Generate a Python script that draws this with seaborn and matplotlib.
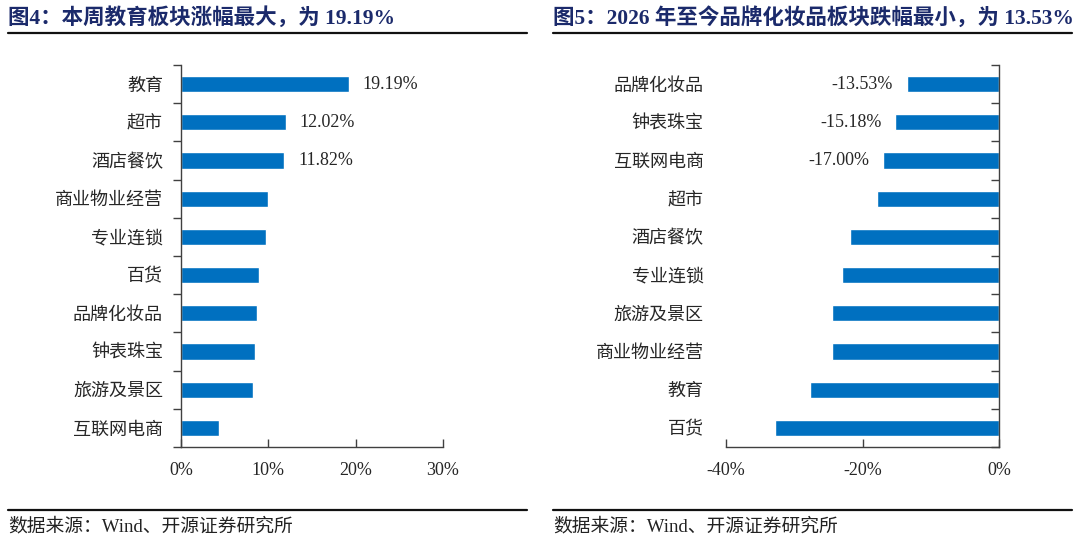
import matplotlib
matplotlib.use('Agg')
import matplotlib.pyplot as plt
from matplotlib.lines import Line2D
import seaborn as sns
import numpy as np

# 图4 本周涨幅
up_cats = ['教育', '超市', '酒店餐饮', '商业物业经营', '专业连锁', '百货',
           '品牌化妆品', '钟表珠宝', '旅游及景区', '互联网电商']
up_vals = [19.19, 12.02, 11.82, 10.0, 9.7, 8.97, 8.74, 8.5, 8.28, 4.39]
up_shown = 3

# 图5 2026年至今
ytd_cats = ['品牌化妆品', '钟表珠宝', '互联网电商', '超市', '酒店餐饮', '专业连锁',
            '旅游及景区', '商业物业经营', '教育', '百货']
ytd_vals = [-13.53, -15.18, -17.00, -17.85, -21.9, -22.96, -24.4, -24.5, -27.7, -32.8]
ytd_shown = 3

left_ticks = [0, 10, 20, 30]
right_ticks = [-40, -20, 0]

title_left = '图4：本周教育板块涨幅最大，为 19.19%'
title_right = '图5：2026 年至今品牌化妆品板块跌幅最小，为 13.53%'
source = '数据来源：Wind、开源证券研究所'

bar_color = '#0070C0'
title_color = '#1B2A6B'
spine_color = '#404040'

sns.set_style('white')
plt.rcParams['font.family'] = ['Liberation Serif', 'Noto Sans CJK SC']
plt.rcParams['axes.unicode_minus'] = False

W, H = 1080, 544
fig = plt.figure(figsize=(W / 100, H / 100), dpi=100)
ax1 = fig.add_axes([181 / W, 1 - 447 / H, (443 - 181) / W, (447 - 65) / H])
ax2 = fig.add_axes([726 / W, 1 - 447 / H, (999 - 726) / W, (447 - 65) / H])


def style_axis(ax, cats, ticks, side):
    n = len(cats)
    ax.set_ylim(n - 0.5, -0.5)
    ax.set_xlim(ticks[0], ticks[-1])
    ax.set_xticks(ticks)
    ax.set_xticklabels([f'{t:.0f}%' for t in ticks], fontsize=13)
    ax.set_yticks(range(n))
    ax.set_yticklabels(cats, fontsize=13)
    ax.set_yticks(np.arange(-0.5, n, 1.0), minor=True)
    ax.set_xlabel('')
    ax.set_ylabel('')
    ax.tick_params(axis='x', direction='in', length=6, width=1, color=spine_color,
                   pad=11, bottom=True)
    for s in ['top', 'right', 'left', 'bottom']:
        ax.spines[s].set_color(spine_color)
        ax.spines[s].set_linewidth(1)
    ax.spines['top'].set_visible(False)
    if side == 'left':
        ax.spines['right'].set_visible(False)
        ax.tick_params(axis='y', which='major', length=0, pad=13)
        ax.tick_params(axis='y', which='minor', left=True, direction='out',
                       length=6, width=1, color=spine_color)
    else:
        ax.spines['left'].set_visible(False)
        ax.tick_params(axis='y', which='major', length=0, pad=16, left=True)
        ax.tick_params(axis='y', which='minor', left=False, right=True,
                       direction='in', length=6, width=1, color=spine_color)


sns.barplot(x=up_vals, y=up_cats, orient='h', color=bar_color, saturation=1,
            width=0.42, ax=ax1)
style_axis(ax1, up_cats, left_ticks, 'left')
for i in range(up_shown):
    ax1.annotate(f'{up_vals[i]:.2f}%', (up_vals[i], i), xytext=(10, 0),
                 textcoords='offset points', ha='left', va='center', fontsize=13)

sns.barplot(x=ytd_vals, y=ytd_cats, orient='h', color=bar_color, saturation=1,
            width=0.42, ax=ax2)
style_axis(ax2, ytd_cats, right_ticks, 'right')
for i in range(ytd_shown):
    ax2.annotate(f'{ytd_vals[i]:.2f}%', (ytd_vals[i], i), xytext=(-10, 0),
                 textcoords='offset points', ha='right', va='center', fontsize=13)

# titles, rules and source notes
fig.text(8 / W, 1 - 18 / H, title_left, fontsize=15.5, fontweight='bold',
         color=title_color, va='center', ha='left')
fig.text(553 / W, 1 - 18 / H, title_right, fontsize=15.5, fontweight='bold',
         color=title_color, va='center', ha='left')
for x0, x1 in [(8, 527), (553, 1072)]:
    fig.add_artist(Line2D([x0 / W, x1 / W], [1 - 33 / H, 1 - 33 / H],
                          color='#111111', lw=1.6))
    fig.add_artist(Line2D([x0 / W, x1 / W], [1 - 510 / H, 1 - 510 / H],
                          color='#111111', lw=1.6))
    fig.text(x0 / W, 1 - 527 / H, source, fontsize=13.5, color='#222222',
             va='center', ha='left')

fig.savefig('out.png', dpi=100)
